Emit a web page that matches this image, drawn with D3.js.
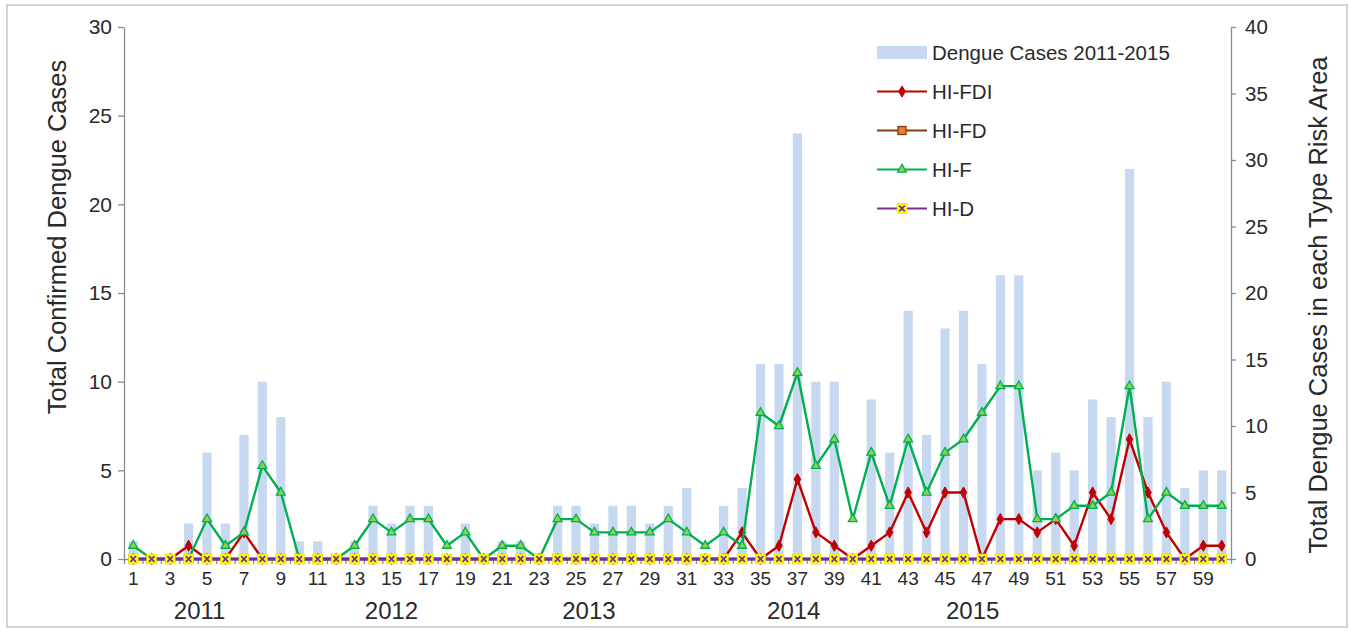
<!DOCTYPE html>
<html>
<head>
<meta charset="utf-8">
<script src="https://cdn.jsdelivr.net/npm/d3@7"></script>
<style>
  html, body { margin: 0; padding: 0; background: #fff; }
  text { font-family: "Liberation Sans", Arial, sans-serif; fill: #2a2a2a; }
</style>
</head>
<body>
<svg id="chart" width="1350" height="631"></svg>
<script>
// ---------- data ----------
const months = [1,2,3,4,5,6,7,8,9,10,11,12,13,14,15,16,17,18,19,20,
  21,22,23,24,25,26,27,28,29,30,31,32,33,34,35,36,37,38,39,40,
  41,42,43,44,45,46,47,48,49,50,51,52,53,54,55,56,57,58,59,60];

// Bars: total confirmed dengue cases (left axis)
const dengueCases = [1,0,0,2,6,2,7,10,8,1,1,0,1,3,2,3,3,0,2,0,
  1,1,0,3,3,2,3,3,2,3,4,0,3,4,11,11,24,10,10,0,
  9,6,14,7,13,14,11,16,16,5,6,5,9,8,22,8,10,4,5,5];

// Lines: cases in each type risk area (right axis)
const hiFDI = [0,0,0,1,0,0,2,0,0,0,0,0,0,0,0,0,0,0,0,0,
  0,0,0,0,0,0,0,0,0,0,0,0,0,2,0,1,6,2,1,0,
  1,2,5,2,5,5,0,3,3,2,3,1,5,3,9,5,2,0,1,1];
const hiFD = [0,0,0,0,0,0,0,0,0,0,0,0,0,0,0,0,0,0,0,0,
  0,0,0,0,0,0,0,0,0,0,0,0,0,0,0,0,0,0,0,0,
  0,0,0,0,0,0,0,0,0,0,0,0,0,0,0,0,0,0,0,0];
const hiF = [1,0,0,0,3,1,2,7,5,0,0,0,1,3,2,3,3,1,2,0,
  1,1,0,3,3,2,2,2,2,3,2,1,2,1,11,10,14,7,9,3,
  8,4,9,5,8,9,11,13,13,3,3,4,4,5,13,3,5,4,4,4];
const hiD = [0,0,0,0,0,0,0,0,0,0,0,0,0,0,0,0,0,0,0,0,
  0,0,0,0,0,0,0,0,0,0,0,0,0,0,0,0,0,0,0,0,
  0,0,0,0,0,0,0,0,0,0,0,0,0,0,0,0,0,0,0,0];

const leftTicks = [0,5,10,15,20,25,30];
const rightTicks = [0,5,10,15,20,25,30,35,40];
const xTickLabels = months.filter(m => m % 2 === 1);
const yearLabels = ["2011","2012","2013","2014","2015"];
const yearPos = [4.6, 15.0, 25.7, 36.8, 46.5]; // position in month units

const legendLabels = ["Dengue Cases 2011-2015","HI-FDI","HI-FD","HI-F","HI-D"];

// ---------- layout ----------
const svg = d3.select("#chart");
const X0 = 124, X1 = 1231, Y0 = 559, Y1 = 27;

svg.append("rect").attr("x",7).attr("y",5).attr("width",1340).attr("height",622)
  .attr("fill","none").attr("stroke","#c8c8c8").attr("stroke-width",1.5);

const x = d3.scaleBand().domain(months).range([X0,X1]).paddingInner(0.5).paddingOuter(0.25);
const xc = d => x(d) + x.bandwidth()/2;
const xb = d3.scaleLinear().domain([0,60]).range([X0,X1]);
const yL = d3.scaleLinear().domain([0,30]).range([Y0,Y1]);
const yR = d3.scaleLinear().domain([0,40]).range([Y0,Y1]);

// bars
svg.append("g").selectAll("rect").data(months).join("rect")
  .attr("x", d => x(d))
  .attr("width", x.bandwidth())
  .attr("y", (d,i) => yL(dengueCases[i]))
  .attr("height", (d,i) => Y0 - yL(dengueCases[i]))
  .attr("fill", "#c6d9f1");

// axes
const axisColor = "#8c8c8c";
function styleAxis(g){
  g.selectAll("path").attr("stroke", axisColor).attr("stroke-width",1.3);
  g.selectAll("line").attr("stroke", axisColor).attr("stroke-width",1.3);
  g.selectAll("text").attr("fill","#2a2a2a").attr("font-family",'"Liberation Sans", Arial, sans-serif');
}

const gL = svg.append("g").attr("transform",`translate(${X0},0)`)
  .call(d3.axisLeft(yL).tickValues(leftTicks).tickSize(6).tickSizeOuter(0).tickPadding(6));
gL.selectAll("text").attr("font-size",21);
styleAxis(gL);

const gR = svg.append("g").attr("transform",`translate(${X1},0)`)
  .call(d3.axisRight(yR).tickValues(rightTicks).tickSize(5).tickSizeOuter(0).tickPadding(9));
gR.selectAll("text").attr("font-size",20.5);
styleAxis(gR);

// x axis boundary ticks
const gXb = svg.append("g").attr("transform",`translate(0,${Y0})`)
  .call(d3.axisBottom(xb).tickValues(d3.range(0,61)).tickSize(5).tickSizeOuter(0).tickFormat(""));
styleAxis(gXb);

// x axis labels
const gX = svg.append("g").attr("transform",`translate(0,${Y0})`)
  .call(d3.axisBottom(x).tickValues(xTickLabels).tickSize(0).tickPadding(13));
gX.select("path").remove();
gX.selectAll("text").attr("font-size",19);
styleAxis(gX);

// year labels
svg.append("g").selectAll("text").data(yearLabels).join("text")
  .attr("x", (d,i) => xb(yearPos[i] - 0.5))
  .attr("y", 619)
  .attr("text-anchor","middle")
  .attr("font-size",24)
  .text(d => d);

// axis titles
svg.append("text")
  .attr("transform","translate(66,237) rotate(-90)")
  .attr("text-anchor","middle").attr("font-size",25.5)
  .text("Total Confirmed Dengue Cases");
svg.append("text")
  .attr("transform","translate(1327,305) rotate(-90)")
  .attr("text-anchor","middle").attr("font-size",25.5)
  .text("Total Dengue Cases in each Type Risk Area");

// ---------- lines ----------
const series = [
  {name:"HI-FDI", values:hiFDI, color:"#c00000", marker:"diamond", mfill:"#c00000", mstroke:"#c00000", w:2.4},
  {name:"HI-FD",  values:hiFD,  color:"#843c0c", marker:"square", mfill:"#ed7d31", mstroke:"#843c0c", w:2.4},
  {name:"HI-F",   values:hiF,   color:"#00b050", marker:"triangle", mfill:"#92d050", mstroke:"#00b050", w:2.4},
  {name:"HI-D",   values:hiD,   color:"#7030a0", marker:"xsquare", mfill:"#ffff00", mstroke:"#7030a0", w:3}
];

function drawMarker(g, type, cx, cy, s){
  if (type === "diamond") {
    g.append("path").attr("d", d3.symbol().type(d3.symbolDiamond).size(36)())
      .attr("transform",`translate(${cx},${cy})`).attr("fill",s.mfill).attr("stroke",s.mstroke).attr("stroke-width",1);
  } else if (type === "square") {
    g.append("rect").attr("x",cx-4).attr("y",cy-4).attr("width",8).attr("height",8)
      .attr("fill",s.mfill).attr("stroke",s.mstroke).attr("stroke-width",1.3);
  } else if (type === "triangle") {
    g.append("path").attr("d", d3.symbol().type(d3.symbolTriangle).size(34)())
      .attr("transform",`translate(${cx},${cy})`).attr("fill",s.mfill).attr("stroke",s.mstroke).attr("stroke-width",1.3);
  } else if (type === "xsquare") {
    g.append("rect").attr("x",cx-5).attr("y",cy-5).attr("width",10).attr("height",10)
      .attr("fill",s.mfill).attr("stroke","#e6d800").attr("stroke-width",0.6);
    g.append("path").attr("d",`M${cx-2.8},${cy-2.8}L${cx+2.8},${cy+2.8}M${cx+2.8},${cy-2.8}L${cx-2.8},${cy+2.8}`)
      .attr("stroke",s.mstroke).attr("stroke-width",1.7);
  }
}

const line = d3.line().x((d,i) => xc(months[i])).y(d => yR(d));
series.forEach(s => {
  const g = svg.append("g");
  g.append("path").datum(s.values).attr("d", line)
    .attr("fill","none").attr("stroke", s.color).attr("stroke-width", s.w).attr("stroke-linejoin","round");
  s.values.forEach((v,i) => drawMarker(g, s.marker, xc(months[i]), yR(v), s));
});

// ---------- legend ----------
const lg = svg.append("g");
const lx = 877, lw = 50, tx = 932;
const rowY = [52.5, 91.5, 130.5, 169.5, 208.5];
lg.append("rect").attr("x",lx).attr("y",rowY[0]-6.5).attr("width",lw).attr("height",13).attr("fill","#c6d9f1");
series.forEach((s,i) => {
  const cy = rowY[i+1];
  lg.append("line").attr("x1",lx).attr("x2",lx+lw).attr("y1",cy).attr("y2",cy)
    .attr("stroke",s.color).attr("stroke-width",2.2);
  drawMarker(lg, s.marker, lx+lw/2, cy, s);
});
lg.selectAll("text.lab").data(legendLabels).join("text").attr("class","lab")
  .attr("x",tx).attr("y",(d,i) => rowY[i]).attr("dy","0.36em")
  .attr("font-size",20.5).text(d => d);
</script>
</body>
</html>
